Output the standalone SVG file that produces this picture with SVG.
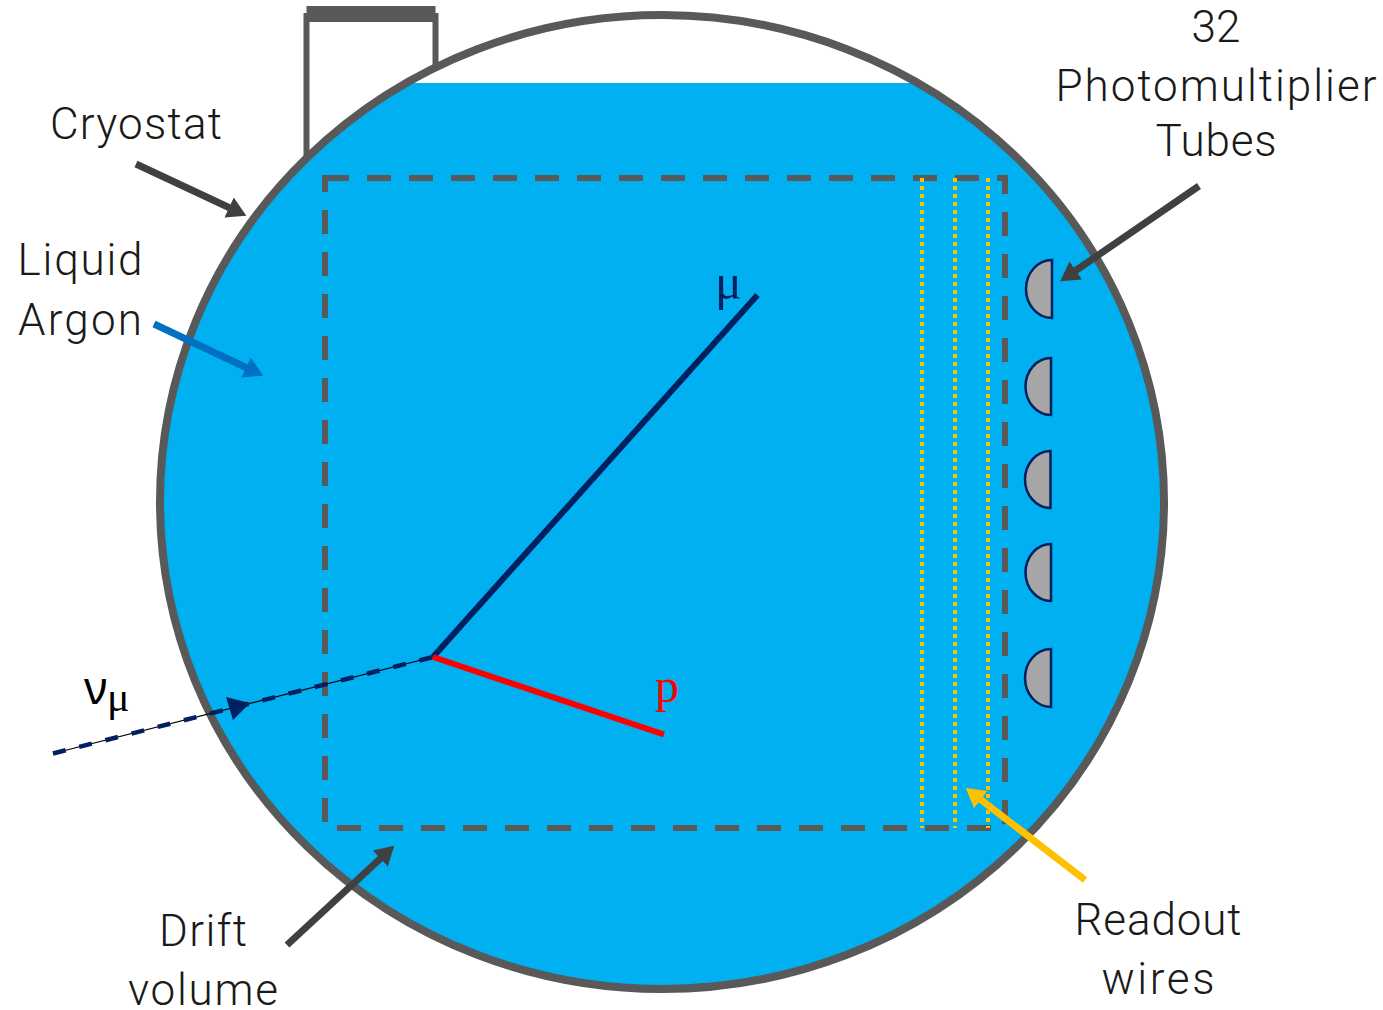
<svg xmlns="http://www.w3.org/2000/svg" width="1383" height="1010" viewBox="0 0 1383 1010">
<style>
.lbl{font-family:"Roboto","Liberation Sans",sans-serif;font-weight:300;font-size:44px;fill:#1a1a1a;text-anchor:middle}
.sym{font-family:"Liberation Serif",serif}
.sans{font-family:"Noto Sans",sans-serif}
.box{fill:none;stroke:#595959;stroke-width:6}
.dash{stroke-dasharray:24 18}
.wire{fill:none;stroke:#ffc000;stroke-width:4;stroke-dasharray:4 4}
.pmt{fill:#a6a6a6;stroke:#002060;stroke-width:2.5}
.arr{fill:none;stroke:#404040;stroke-width:7}
</style>
<defs>
<clipPath id="c"><ellipse cx="662" cy="502" rx="502" ry="487"/></clipPath>
<marker id="ma" markerUnits="userSpaceOnUse" markerWidth="24" markerHeight="24" refX="1" refY="12" orient="auto"><path d="M0 1L19 12L0 23Z" fill="#404040"/></marker>
<marker id="mb" markerUnits="userSpaceOnUse" markerWidth="24" markerHeight="24" refX="1" refY="12" orient="auto"><path d="M0 1L19 12L0 23Z" fill="#0070c0"/></marker>
<marker id="my" markerUnits="userSpaceOnUse" markerWidth="24" markerHeight="24" refX="1" refY="12" orient="auto"><path d="M0 1L19 12L0 23Z" fill="#ffc000"/></marker>
</defs>
<g id="cryostat">
<path d="M306.500 158V16H435.500V68" fill="none" stroke="#595959" stroke-width="6"/>
<rect x="306.500" y="6" width="129" height="16" fill="#595959"/>
<rect x="150" y="83" width="1030" height="920" fill="#00b0f0" clip-path="url(#c)"/>
<ellipse cx="662" cy="502" rx="502" ry="487" fill="none" stroke="#595959" stroke-width="8"/>
</g>
<g id="drift-volume"><rect class="box dash" x="325" y="178" width="680" height="650"/></g>
<g id="wires">
<path class="wire" d="M922 178V828"/><path class="wire" d="M955 178V828"/><path class="wire" d="M988 178V828"/>
</g>
<g id="pmt-1"><path class="pmt" d="M1052 260V318A26 29 0 0 1 1052 260Z"/></g>
<g id="pmt-2"><path class="pmt" d="M1051 358V415A25.500 28.500 0 0 1 1051 358Z"/></g>
<g id="pmt-3"><path class="pmt" d="M1050.500 451V508A25.500 28.500 0 0 1 1050.500 451Z"/></g>
<g id="pmt-4"><path class="pmt" d="M1051 544V601A25.500 28.500 0 0 1 1051 544Z"/></g>
<g id="pmt-5"><path class="pmt" d="M1051 649V707A26 29 0 0 1 1051 649Z"/></g>
<g id="connectors">
<path class="arr" d="M136 164L230 208" marker-end="url(#ma)"/>
<path d="M154 324L247 368" fill="none" stroke="#0070c0" stroke-width="7" marker-end="url(#mb)"/>
<path class="arr" d="M1199 186L1075 271" marker-end="url(#ma)"/>
<path class="arr" d="M287 945L381 858" marker-end="url(#ma)"/>
<path d="M1085 880L980 799" fill="none" stroke="#ffc000" stroke-width="7" marker-end="url(#my)"/>
<path d="M53 753.500L433 657" stroke="#000" stroke-width="1.200" fill="none"/>
<path d="M53 753.500L433 657" stroke="#002060" stroke-width="4.500" fill="none" stroke-dasharray="13 14"/>
<path d="M226 697L250 703L233 720Z" fill="#002060"/>
<path d="M757.500 295L433 657" stroke="#002060" stroke-width="6" fill="none"/>
<path d="M433 657L664 734.500" stroke="#ff0000" stroke-width="6" fill="none"/>
</g>
<g id="labels">
<text class="lbl" x="136" y="139" textLength="172">Cryostat</text>
<text class="lbl" x="80" y="275" textLength="125">Liquid</text>
<text class="lbl" x="80" y="335" textLength="124">Argon</text>
<text class="lbl" x="1216" y="42" textLength="49">32</text>
<text class="lbl" x="1216" y="101" textLength="321">Photomultiplier</text>
<text class="lbl" x="1216" y="156" textLength="121">Tubes</text>
<text class="lbl" x="203" y="946" textLength="88">Drift</text>
<text class="lbl" x="203" y="1005" textLength="150">volume</text>
<text class="lbl" x="1158" y="935" textLength="167">Readout</text>
<text class="lbl" x="1158" y="994" textLength="113">wires</text>
<text class="sans" x="84" y="704" font-size="45" fill="#000">ν</text>
<text class="sym" x="107" y="711" font-size="42" fill="#000">μ</text>
<text class="sym" x="715" y="299" font-size="50" fill="#002060">μ</text>
<text class="sym" x="655" y="702" font-size="48" fill="#ff0000">p</text>
</g>
</svg>
